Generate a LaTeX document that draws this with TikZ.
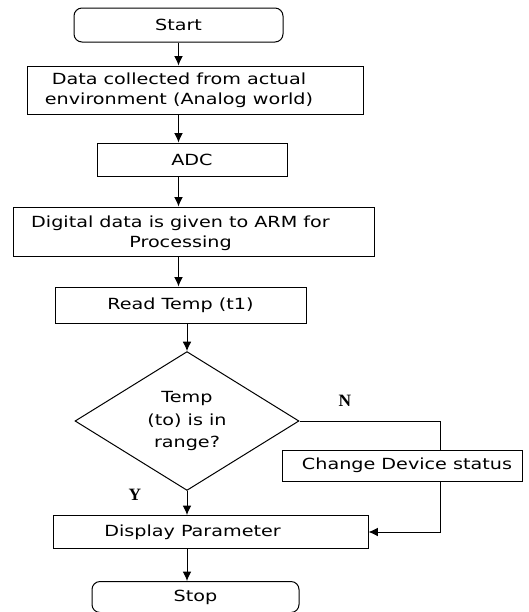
\documentclass[tikz,border=0pt]{standalone}
\usepackage{fontspec}
\setmainfont{DejaVu Sans}[FakeStretch=1.25]
\newfontfamily\flagfont{Liberation Serif}
\usetikzlibrary{shapes.geometric,arrows.meta}

\tikzset{every picture/.style={line width=0.75pt}}
\tikzset{
  boxfont/.style={font=\fontsize{11.5}{15}\selectfont},
  procbox/.style={draw, rectangle, inner sep=0.75pt, align=center, boxfont},
  termbox/.style={procbox, rounded corners=6pt},
  decbox/.style={draw, diamond, inner sep=0pt, align=center, font=\fontsize{11.5}{17}\selectfont},
  offtext/.style={label={[boxfont, align=center, inner sep=0pt, xshift=#1]center:}},
  flaglabel/.style={inner sep=0.75pt, font=\flagfont\bfseries\fontsize{13}{15}\selectfont},
  flowarr/.style={-{Latex[length=7pt,width=6.5pt]}}
}

\begin{document}
\begin{tikzpicture}[x=0.75pt,y=0.75pt,yscale=-1,xscale=1]
%set diagram left start at 0, and has height of 612
\useasboundingbox (0,0) rectangle (529,612);

%Flowchart: Terminator
\node [termbox, minimum width=156.75pt, minimum height=25.5pt] (start) at (178.5,25) {Start};
%Flowchart: Process
\node [procbox, minimum width=252pt, minimum height=36pt,
  label={[boxfont, align=center, inner sep=0pt, xshift=-12pt]center:Data collected from actual\\environment (Analog world)}] (data) at (195,90) {};
%Flowchart: Process
\node [procbox, minimum width=142.5pt, minimum height=24.75pt] (adc) at (192,159.5) {ADC};
%Flowchart: Process
\node [procbox, minimum width=270.75pt, minimum height=36.75pt,
  label={[boxfont, align=center, inner sep=0pt, xshift=-9.75pt, yshift=-1.5pt]center:Digital data is given to ARM for\\Processing}] (digital) at (193.5,231.5) {};
%Flowchart: Process
\node [procbox, minimum width=188.25pt, minimum height=27pt] (read) at (180.5,305) {Read Temp (t1)};
%Flowchart: Decision
\node [decbox, minimum width=168pt, minimum height=103.5pt] (dec) at (187,421) {Temp\\(to) is in\\range?};
%Flowchart: Process
\node [procbox, minimum width=180pt, minimum height=23.25pt,
  label={[boxfont, inner sep=0pt, xshift=3.75pt]center:Change Device status}] (change) at (402,465.5) {};
%Flowchart: Process
\node [procbox, minimum width=236.25pt, minimum height=24.75pt,
  label={[boxfont, inner sep=0pt, xshift=-13.5pt]center:Display Parameter}] (display) at (210.5,532) {};
%Flowchart: Terminator
\node [termbox, minimum width=155.25pt, minimum height=23.25pt] (stop) at (195.5,597) {Stop};

% Text Node
\node [flaglabel] (nflag) at (345,401) {N};
% Text Node
\node [flaglabel] (yflag) at (135,495) {Y};

%Straight Lines
\draw [flowarr] (start.south) -- (start.south |- data.north);
\draw [flowarr] (data.south -| start.south) -- (adc.north -| start.south);
\draw [flowarr] (adc.south -| start.south) -- (digital.north -| start.south);
\draw [flowarr] (digital.south -| start.south) -- (read.north -| start.south);
\draw [flowarr] (read.south -| dec.north) -- (dec.north);
\draw [flowarr] (dec.south) -- (display.north -| dec.south);
\draw [flowarr] (display.south -| dec.south) -- (stop.north -| dec.south);

%Elbow Connector
\coordinate (nbend) at (440,421);
\draw (dec.east) -- (dec.east -| nbend) -- (nbend |- change.north);
\draw [flowarr] (nbend |- change.south) |- (display.east);

\end{tikzpicture}
\end{document}
